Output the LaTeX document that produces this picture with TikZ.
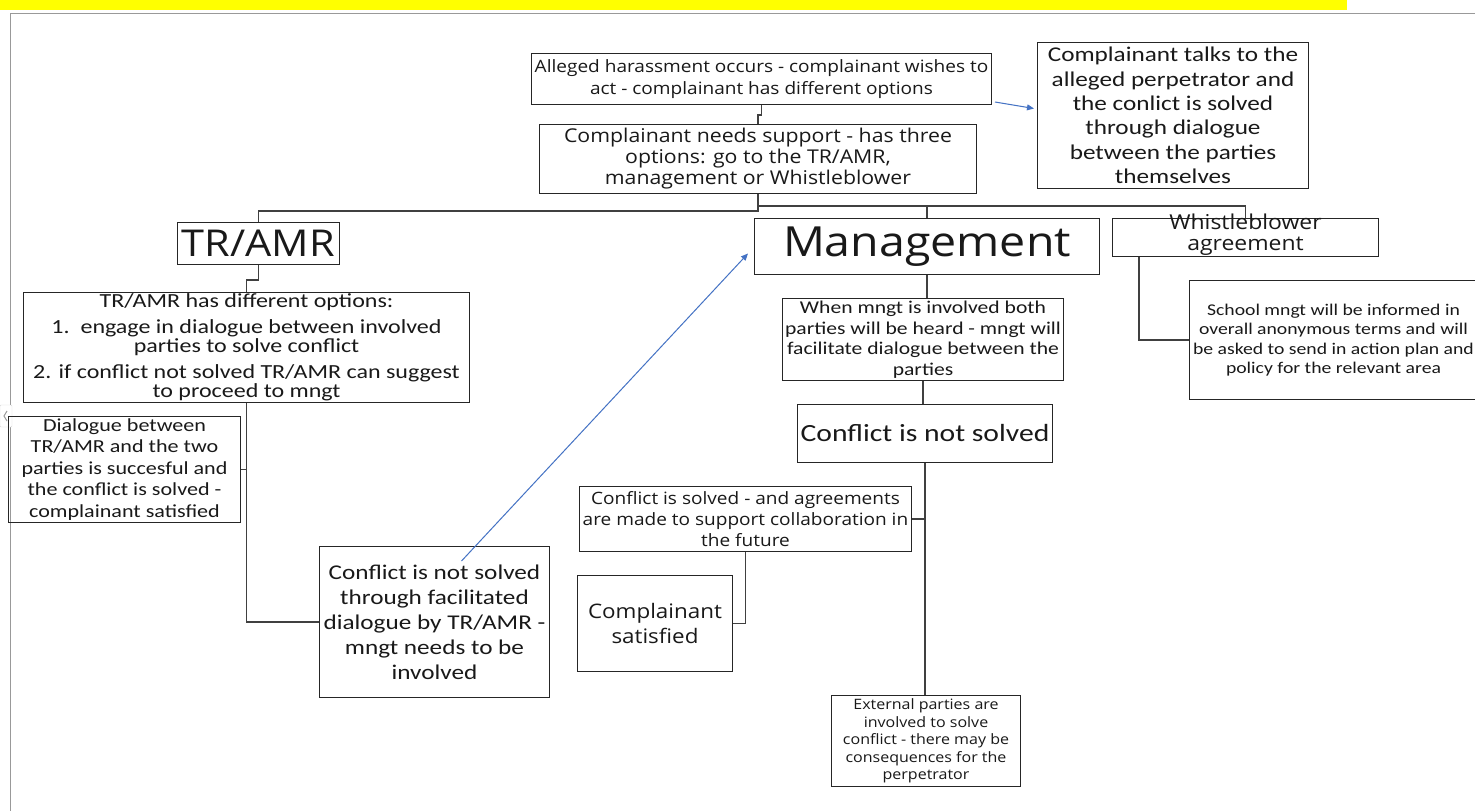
\documentclass[tikz,border=0pt]{standalone}
\usepackage{fontspec}
\setmainfont{Carlito}[FakeStretch=1.2]
\newfontfamily\segf{Open Sans}[FakeStretch=1.12]
\usetikzlibrary{calc,arrows.meta}
\newcommand\myfs[2]{\fontsize{#1}{#2}\selectfont}
\definecolor{bluearr}{HTML}{4472C4}
\definecolor{ylw}{HTML}{FFFF00}
\tikzset{
  box/.style={draw=black!85, line width=1pt, align=center, inner sep=1pt, anchor=north west, text=black!90},
  conn/.style={draw=black!75, line width=1.2pt},
  barrow/.style={draw=bluearr, line width=1pt, -{Triangle[length=7pt,width=6pt]}},
}
\begin{document}
\begin{tikzpicture}[x=1pt,y=-1pt]
\clip (0,0) rectangle (1475,811);
\fill[white] (0,0) rectangle (1475,811);
% top banner and frame
\fill[ylw] (0,0) rectangle (1347,10);
\draw[black!40, line width=1pt] (10,811) -- (10,13) -- (1475,13);
\fill[white, draw=black!15, rounded corners=1pt] (0,405) rectangle (12,427);
\draw[black!40, line width=1pt] (7,411) -- (4,416) -- (7,421);

% nodes
\node[box, minimum width=460pt, minimum height=51pt, font={\segf\myfs{17}{22}}] (alleged) at (531,53)
  {Alleged harassment occurs - complainant wishes to\\act - complainant has different options};
\node[box, minimum width=271pt, minimum height=146pt, font={\myfs{21}{24.4}}] (talks) at (1037,42)
  {Complainant talks to the\\alleged perpetrator and\\the conlict is solved\\through dialogue\\between the parties\\themselves};
\node[box, minimum width=437pt, minimum height=69pt, font={\segf\myfs{19}{21}}] (needs) at (539,124)
  {Complainant needs support - has three\\options: go to the TR/AMR,\\management or Whistleblower};
\node[box, minimum width=162pt, minimum height=42pt, inner sep=0pt, font={\segf\myfs{37}{40}}] (tramr) at (177,222)
  {TR/AMR};
\node[box, minimum width=345pt, minimum height=56pt, inner sep=0pt, font={\segf\myfs{41.5}{46}}] (mgmt) at (754,218)
  {Management};
\node[box, minimum width=266pt, minimum height=38pt] (whistle) at (1112,218) {};
\node[align=center, text=black!90, inner sep=0pt, font={\segf\myfs{20.5}{21}}] (whistletxt) at ($(whistle.center)+(0,-3)$)
  {Whistleblower\\agreement};
\node[box, minimum width=446pt, minimum height=110pt, inner sep=0pt, font={\myfs{20}{19}}] (options) at (23,292)
  {TR/AMR has different options:\\[7pt]1.\ \ engage in dialogue between involved\\parties to solve conflict\\[7pt]2. if conflict not solved TR/AMR can suggest\\to proceed to mngt};
\node[box, minimum width=232pt, minimum height=106pt, font={\myfs{18.4}{21.5}}] (dialogue) at (8,416)
  {Dialogue between\\TR/AMR and the two\\parties is succesful and\\the conflict is solved -\\complainant satisfied};
\node[box, minimum width=230pt, minimum height=151pt, font={\myfs{21}{25}}] (cnst) at (319,546)
  {Conflict is not solved\\through facilitated\\dialogue by TR/AMR -\\mngt needs to be\\involved};
\node[box, minimum width=281pt, minimum height=82pt, inner sep=0pt, font={\myfs{18}{20.5}}] (whenm) at (782,298)
  {When mngt is involved both\\parties will be heard - mngt will\\facilitate dialogue between the\\parties};
\node[box, minimum width=288pt, minimum height=119pt, font={\myfs{16.4}{19.5}}] (school) at (1189,280)
  {School mngt will be informed in\\overall anonymous terms and will\\be asked to send in action plan and\\policy for the relevant area};
\node[box, minimum width=255pt, minimum height=58pt, font={\myfs{24.7}{28}}] (cns) at (797,404)
  {Conflict is not solved};
\node[box, minimum width=332pt, minimum height=65pt, font={\segf\myfs{17}{21}}] (agree) at (579,486)
  {Conflict is solved - and agreements\\are made to support collaboration in\\the future};
\node[box, minimum width=155pt, minimum height=96pt, font={\segf\myfs{20}{25}}] (sat) at (577,575)
  {Complainant\\satisfied};
\node[box, minimum width=189pt, minimum height=91pt, font={\segf\myfs{14.3}{17.5}}] (ext) at (831,695)
  {External parties are\\involved to solve\\conflict - there may be\\consequences for the\\perpetrator};

% connectors
\draw[conn] (alleged.south) -- ++(0,10) -| (needs.north);
\draw[conn] (needs.south) -- ++(0,17) -| (tramr.north);
\draw[conn] (needs.south) ++(0,12) -| (mgmt.north);
\draw[conn] (needs.south) ++(0,12) -| (whistle.north);
\draw[conn] (tramr.south) -- ++(0,15) -| (options.north);
\draw[conn] (options.south) |- (cnst.west);
\draw[conn] (dialogue.east) -- (dialogue.east -| options.south);
\draw[conn] ($(whistle.south west)+(27,0)$) |- (school.west);
\draw[conn] (mgmt.south) -- (mgmt.south |- whenm.north);
\draw[conn] (whenm.south) -- (whenm.south |- cns.north);
\draw[conn] (cns.south) -- (cns.south |- ext.north);
\draw[conn] (agree.east) -- (agree.east -| cns.south);
\draw[conn] (agree.south) |- (sat.east);

% blue arrows
\draw[barrow] ($(alleged.south east)+(3,-3)$) -- ($(talks.west)+(-3,-7)$);
\draw[barrow] ($(cnst.north)+(27,15)$) -- ($(mgmt.west)+(-6,7)$);
\end{tikzpicture}
\end{document}
